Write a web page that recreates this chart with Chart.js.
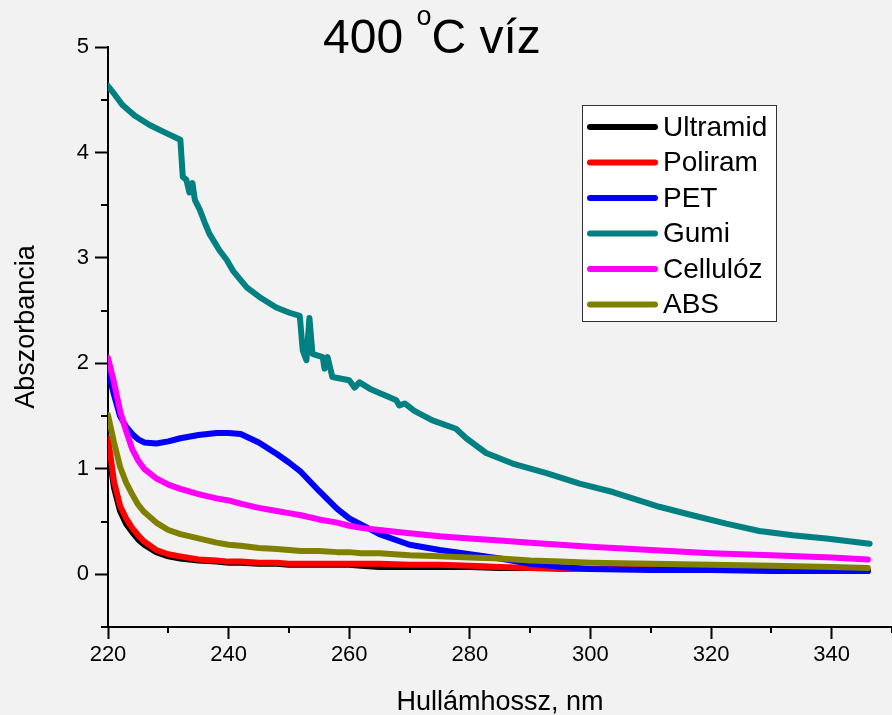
<!DOCTYPE html>
<html>
<head>
<meta charset="utf-8">
<script src="https://cdn.jsdelivr.net/npm/chart.js@4.4.1/dist/chart.umd.min.js"></script>
<style>
  html, body { margin: 0; padding: 0; background: #f2f2f2; }
  #wrap { width: 892px; height: 715px; }
</style>
</head>
<body>
<div id="wrap"><canvas id="chart" width="892" height="715"></canvas></div>
<script>
// wavelengths (nm) shared by the smooth curves
const wl = [220, 221, 222, 223, 224, 225, 226, 228, 230, 232, 235, 238, 240, 242, 245, 248, 250, 252, 255, 258, 260, 262, 265, 270, 275, 280, 285, 290, 295, 300, 310, 320, 330, 340, 346];

const ultramid = [1.22, 0.82, 0.60, 0.48, 0.40, 0.33, 0.28, 0.21, 0.17, 0.15, 0.13, 0.12, 0.11, 0.11, 0.10, 0.10, 0.09, 0.09, 0.09, 0.09, 0.09, 0.08, 0.07, 0.07, 0.07, 0.07, 0.06, 0.06, 0.06, 0.05, 0.05, 0.04, 0.04, 0.03, 0.03];
const poliram = [1.29, 0.88, 0.65, 0.53, 0.44, 0.37, 0.31, 0.23, 0.19, 0.17, 0.14, 0.13, 0.12, 0.12, 0.11, 0.11, 0.10, 0.10, 0.10, 0.10, 0.10, 0.10, 0.10, 0.09, 0.09, 0.08, 0.07, 0.06, 0.05, 0.05, 0.05, 0.04, 0.04, 0.04, 0.04];
const pet = [1.93, 1.70, 1.50, 1.40, 1.33, 1.28, 1.25, 1.24, 1.26, 1.29, 1.32, 1.34, 1.34, 1.33, 1.25, 1.14, 1.06, 0.97, 0.79, 0.62, 0.53, 0.47, 0.38, 0.28, 0.23, 0.19, 0.15, 0.10, 0.07, 0.05, 0.04, 0.04, 0.03, 0.03, 0.03];
const cellulose = [2.05, 1.82, 1.55, 1.36, 1.19, 1.08, 1.00, 0.91, 0.85, 0.81, 0.76, 0.72, 0.70, 0.67, 0.63, 0.60, 0.58, 0.56, 0.52, 0.49, 0.46, 0.44, 0.42, 0.39, 0.36, 0.34, 0.32, 0.30, 0.28, 0.26, 0.23, 0.20, 0.18, 0.16, 0.14];
const abs = [1.51, 1.25, 1.02, 0.87, 0.76, 0.66, 0.59, 0.49, 0.42, 0.38, 0.34, 0.30, 0.28, 0.27, 0.25, 0.24, 0.23, 0.22, 0.22, 0.21, 0.21, 0.20, 0.20, 0.18, 0.17, 0.16, 0.15, 0.13, 0.12, 0.11, 0.10, 0.09, 0.08, 0.07, 0.06];

// the noisy rubber curve has its own wavelength grid
const gumiWl = [220, 221.1, 222.4, 224.4, 226.9, 229.4, 232.0, 232.4, 233.0, 233.5, 234.0, 234.4, 235.2, 236.0, 236.8, 238.5, 239.7, 240.7, 243.0, 245.1, 247.9, 250.1, 251.8, 252.3, 252.9, 253.4, 253.9, 255.6, 255.9, 256.4, 257.2, 260.0, 260.9, 261.7, 263.4, 265.0, 266.2, 267.8, 268.3, 269.2, 270.8, 273.8, 277.7, 279.4, 282.7, 287.1, 292.7, 298.2, 303.7, 309.2, 311.4, 316.9, 322.5, 328.0, 333.5, 339.1, 346.3];
const gumi = [4.63, 4.55, 4.45, 4.35, 4.26, 4.19, 4.12, 3.77, 3.74, 3.62, 3.71, 3.55, 3.46, 3.34, 3.23, 3.07, 2.98, 2.88, 2.72, 2.63, 2.53, 2.48, 2.45, 2.12, 2.03, 2.43, 2.09, 2.06, 1.95, 2.06, 1.87, 1.84, 1.77, 1.82, 1.76, 1.72, 1.69, 1.65, 1.60, 1.62, 1.55, 1.46, 1.38, 1.29, 1.15, 1.05, 0.96, 0.86, 0.78, 0.68, 0.64, 0.56, 0.48, 0.41, 0.37, 0.34, 0.29];

const names = ['Ultramid', 'Poliram', 'PET', 'Gumi', 'Cellulóz', 'ABS'];
const colors = ['#000000', '#ff0000', '#0000ff', '#008080', '#ff00ff', '#808000'];
const xValues = [wl, wl, wl, gumiWl, wl, wl];
const yValues = [ultramid, poliram, pet, gumi, cellulose, abs];

const xTicks = [220, 240, 260, 280, 300, 320, 340];
const yTicks = [0, 1, 2, 3, 4, 5];

const FONT = 'Arial, "Liberation Sans", sans-serif';

// Chart.js paints the first dataset on top, so feed them reversed
const datasets = names.map((name, i) => ({
  label: name,
  data: xValues[i].map((x, k) => ({ x: x, y: yValues[i][k] })),
  borderColor: colors[i],
  backgroundColor: colors[i],
  borderWidth: 6,
  pointRadius: 0,
  tension: 0,
  borderCapStyle: 'round',
  borderJoinStyle: 'round',
  fill: false
})).reverse();

// minor ticks, titles and the boxed legend
const decorations = {
  id: 'decorations',
  afterDraw(chart) {
    const ctx = chart.ctx;
    const xs = chart.scales.x;
    const ys = chart.scales.y;
    const area = chart.chartArea;
    ctx.save();

    // minor ticks
    ctx.strokeStyle = '#000';
    ctx.lineWidth = 2;
    ctx.beginPath();
    for (let v = 230; v <= 350; v += 20) {
      const px = Math.round(xs.getPixelForValue(v));
      ctx.moveTo(px, area.bottom);
      ctx.lineTo(px, area.bottom + 6);
    }
    for (let v = -0.5; v <= 4.5; v += 1) {
      const py = Math.round(ys.getPixelForValue(v));
      ctx.moveTo(area.left, py);
      ctx.lineTo(area.left - 7, py);
    }
    ctx.stroke();

    // title: 400 °C víz with superscript o
    ctx.fillStyle = '#000';
    ctx.textBaseline = 'alphabetic';
    ctx.textAlign = 'left';
    ctx.font = '48px ' + FONT;
    let tx = 323;
    ctx.fillText('400 ', tx, 53);
    tx += ctx.measureText('400 ').width;
    ctx.font = '27px ' + FONT;
    ctx.fillText('o', tx, 25);
    tx += ctx.measureText('o').width;
    ctx.font = '48px ' + FONT;
    ctx.fillText('C víz', tx, 53);

    // axis titles
    ctx.font = '27px ' + FONT;
    ctx.textAlign = 'center';
    ctx.fillText('Hullámhossz, nm', (area.left + area.right) / 2, 710);
    ctx.save();
    ctx.translate(34, 327);
    ctx.rotate(-Math.PI / 2);
    ctx.fillText('Abszorbancia', 0, 0);
    ctx.restore();

    // legend
    const lx = 582, ly = 105, lw = 194, lh = 216;
    ctx.fillStyle = '#ffffff';
    ctx.fillRect(lx, ly, lw, lh);
    ctx.strokeStyle = '#333';
    ctx.lineWidth = 1;
    ctx.strokeRect(lx + 0.5, ly + 0.5, lw, lh);
    ctx.font = '28px ' + FONT;
    ctx.textAlign = 'left';
    ctx.textBaseline = 'middle';
    ctx.lineCap = 'round';
    names.forEach((name, i) => {
      const rowY = 127 + i * 35.5;
      ctx.strokeStyle = colors[i];
      ctx.lineWidth = 6;
      ctx.beginPath();
      ctx.moveTo(590, rowY);
      ctx.lineTo(655, rowY);
      ctx.stroke();
      ctx.fillStyle = '#000';
      ctx.fillText(name, 663, rowY + 1);
    });
    ctx.restore();
  }
};

new Chart(document.getElementById('chart').getContext('2d'), {
  type: 'line',
  data: { datasets: datasets },
  options: {
    responsive: false,
    animation: false,
    layout: { padding: { top: 47, right: 0, bottom: 0, left: 0 } },
    plugins: {
      legend: { display: false },
      tooltip: { enabled: false }
    },
    scales: {
      x: {
        type: 'linear',
        min: 220,
        max: 350,
        afterFit: (scale) => { scale.height = 88; },
        afterBuildTicks: (scale) => { scale.ticks = xTicks.map(v => ({ value: v })); },
        ticks: {
          color: '#000',
          font: { size: 22, family: FONT },
          padding: 3,
          maxRotation: 0,
          autoSkip: false
        },
        grid: {
          drawOnChartArea: false,
          drawTicks: true,
          tickLength: 12,
          tickWidth: 2,
          tickColor: '#000'
        },
        border: { display: true, color: '#000', width: 2 }
      },
      y: {
        min: -0.5,
        max: 5,
        afterFit: (scale) => { scale.width = 108; },
        afterBuildTicks: (scale) => { scale.ticks = yTicks.map(v => ({ value: v })); },
        ticks: {
          color: '#000',
          font: { size: 22, family: FONT },
          padding: 6,
          autoSkip: false
        },
        grid: {
          drawOnChartArea: false,
          drawTicks: true,
          tickLength: 13,
          tickWidth: 2,
          tickColor: '#000'
        },
        border: { display: true, color: '#000', width: 2 }
      }
    }
  },
  plugins: [decorations]
});
</script>
</body>
</html>
